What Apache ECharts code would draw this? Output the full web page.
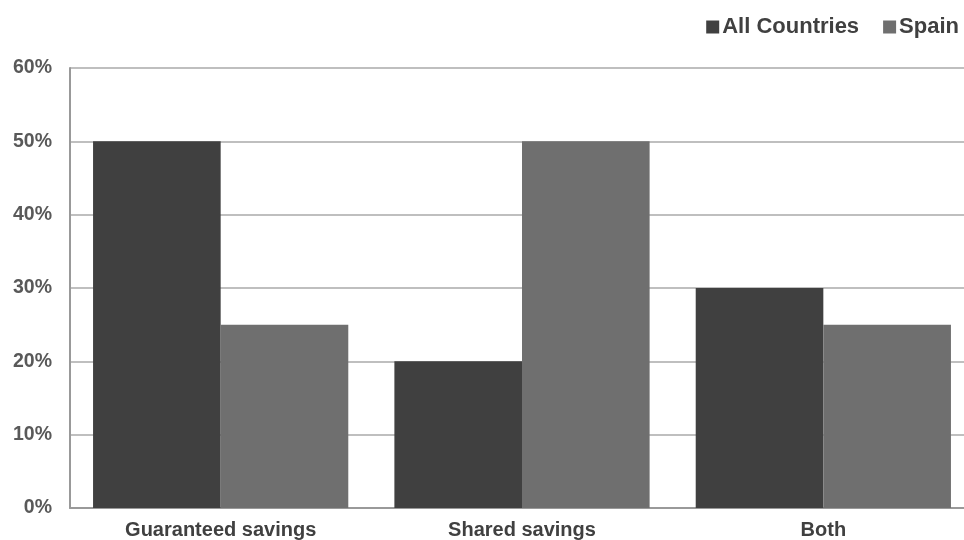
<!DOCTYPE html>
<html>
<head>
<meta charset="utf-8">
<script src="https://cdn.jsdelivr.net/npm/echarts@6/dist/echarts.min.js"></script>
<style>
  html, body { margin: 0; padding: 0; background: #fff; overflow: hidden; }
  #wrap { width: 964px; height: 540px; overflow: hidden; }
  #chart { width: 974px; height: 540px; }
</style>
</head>
<body>
<div id="wrap"><div id="chart"></div></div>
<script>
// Share of contracts by savings model
const categories = ['Guaranteed savings', 'Shared savings', 'Both'];
const allCountries = [50, 20, 30];
const spain = [25, 50, 25];
const yTicks = [0, 10, 20, 30, 40, 50, 60];

const chart = echarts.init(document.getElementById('chart'), null, { renderer: 'canvas' });

chart.setOption({
  animation: false,
  backgroundColor: '#ffffff',
  textStyle: { fontFamily: 'Liberation Sans, Arial, sans-serif' },
  legend: {
    top: 11,
    right: 10,
    itemWidth: 13,
    itemHeight: 13,
    itemGap: 24,
    icon: 'rect',
    textStyle: { fontSize: 22, fontWeight: 'bold', color: '#404040', padding: [0, 0, 0, -2] },
    data: ['All Countries', 'Spain']
  },
  grid: { left: 70, right: 0, top: 68, bottom: 31, containLabel: false },
  xAxis: {
    type: 'category',
    data: categories,
    axisLine: { show: true, lineStyle: { color: '#999999', width: 2 } },
    axisTick: { show: false },
    axisLabel: { fontSize: 20, fontWeight: 'bold', color: '#404040', margin: 12 },
    splitLine: { show: false }
  },
  yAxis: {
    type: 'value',
    min: yTicks[0],
    max: yTicks[yTicks.length - 1],
    interval: 10,
    axisLine: { show: true, lineStyle: { color: '#999999', width: 2 } },
    axisTick: { show: false },
    axisLabel: { fontSize: 19.5, fontWeight: 'bold', color: '#595959', margin: 18, formatter: '{value}%' },
    splitLine: { show: true, lineStyle: { color: '#bfbfbf', width: 2 } }
  },
  series: [
    {
      name: 'All Countries',
      type: 'bar',
      data: allCountries,
      barGap: '0%',
      barCategoryGap: '15.3%',
      itemStyle: { color: '#404040' }
    },
    {
      name: 'Spain',
      type: 'bar',
      data: spain,
      barGap: '0%',
      barCategoryGap: '15.3%',
      itemStyle: { color: '#6f6f6f' }
    }
  ]
});
</script>
</body>
</html>
